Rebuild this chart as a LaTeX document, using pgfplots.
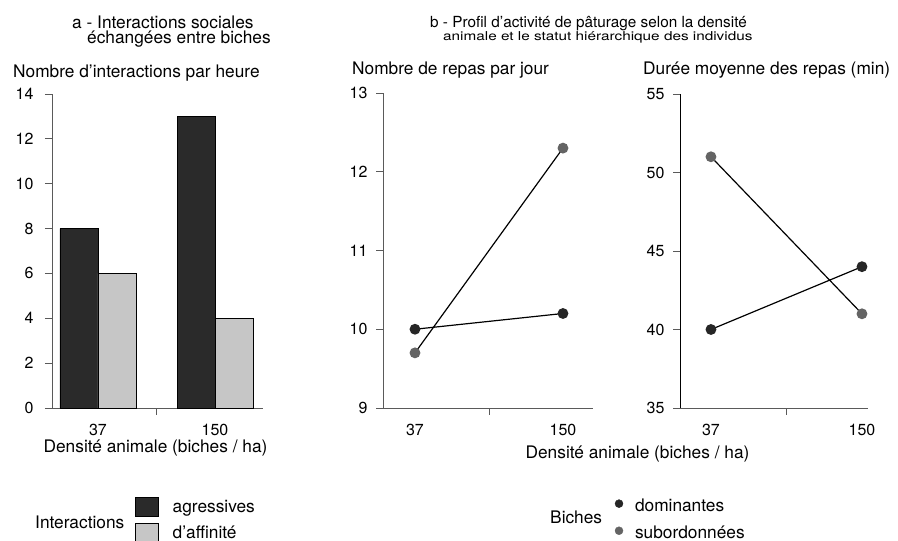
\documentclass[border=0pt]{standalone}
\usepackage{pgfplots}
\pgfplotsset{compat=1.18}
\usepackage{fontspec}
\setmainfont{TeX Gyre Heros}
\definecolor{darkbar}{HTML}{2A2A2A}
\definecolor{lightbar}{HTML}{C6C6C6}
\definecolor{domc}{HTML}{262626}
\definecolor{subc}{HTML}{646464}
\definecolor{axc}{HTML}{5A5A5A}
\newcommand{\fa}{\fontsize{17.3bp}{20bp}\selectfont}
\newcommand{\fb}{\fontsize{15.3bp}{18bp}\selectfont}
\newcommand{\ft}{\fontsize{16bp}{19bp}\selectfont}
\pgfplotsset{
  boxlegend/.style={legend image code/.code={\draw[##1] (0bp,-4bp) rectangle (23bp,15bp);}},
  dotlegend/.style={legend image code/.code={\draw[##1, mark size=4bp] plot coordinates {(4.5bp,6bp)};}},
  common/.style={
    scale only axis, anchor=south west,
    axis x line*=bottom, axis y line*=left,
    axis line style={-, draw=axc, line width=0.7pt},
    tick align=outside, major tick length=7bp,
    tick style={draw=axc, line width=0.7pt},
    /pgf/number format/assume math mode=true,
    ticklabel style={font=\ft},
    y tick label style={xshift=-5bp},
    xtick={0.5}, xticklabels={},
    extra x ticks={0,1}, extra x tick labels={37,150},
    extra x tick style={tick style={draw=none}, x tick label style={yshift=-6bp}},
    clip=false,
  },
}
\begin{document}
\begin{tikzpicture}[x=1bp,y=1bp]
\useasboundingbox (0,0) rectangle (898,541);
% ---------- panel a
\begin{axis}[common, at={(52bp,133bp)}, width=211bp, height=314bp,
  xmin=-0.393, xmax=1.41, ymin=0, ymax=14, ytick={0,2,...,14},
  y tick label style={xshift=-3bp},
  legend cell align=left,
  legend style={at={(0.3934,-0.2835)}, anchor=north west, draw=none, fill=none,
    inner sep=0pt, outer sep=0pt, row sep=6.5bp, column sep=14bp,
    nodes={inner sep=0pt}, cells={anchor=base west}, font=\fa}]
\addplot[ybar, bar width=38bp, bar shift=-19bp, fill=darkbar, draw=black, line width=0.7pt, boxlegend]
  coordinates {(0,8) (1,13)};
\addplot[ybar, bar width=38bp, bar shift=19bp, fill=lightbar, draw=black, line width=0.7pt, boxlegend]
  coordinates {(0,6) (1,4)};
\legend{agressives, d'affinité}
\end{axis}
% ---------- panel b1
\begin{axis}[common, at={(383bp,133bp)}, width=210bp, height=315bp,
  xmin=-0.216, xmax=1.203, ymin=9, ymax=13, ytick={9,10,11,12,13},
  legend cell align=left,
  legend style={at={(1.1048,-0.289)}, anchor=north west, draw=none, fill=none,
    inner sep=0pt, outer sep=0pt, row sep=15bp, column sep=12bp,
    nodes={inner sep=0pt}, cells={anchor=base west}, font=\fa}]
\addlegendimage{only marks, mark=*, mark options={fill=domc, draw=domc}, dotlegend}
\addlegendimage{only marks, mark=*, mark options={fill=subc, draw=subc}, dotlegend}
\addplot[black, line width=1.2pt, mark=*, mark size=4.8bp, mark options={fill=domc, draw=domc}]
  coordinates {(0,10) (1,10.2)};
\addplot[black, line width=1.2pt, mark=*, mark size=4.8bp, mark options={fill=subc, draw=subc}]
  coordinates {(0,9.7) (1,12.3)};
\legend{\raisebox{-2bp}{dominantes}, \raisebox{-2bp}{subordonnées}}
\end{axis}
% ---------- panel b2
\begin{axis}[common, at={(680bp,133bp)}, width=188bp, height=314bp,
  xmin=-0.205, xmax=1.04, ymin=35, ymax=55, ytick={35,40,...,55},
  y axis line style={draw=black, line width=1pt}]
\addplot[black, line width=1.2pt, mark=*, mark size=4.8bp, mark options={fill=domc, draw=domc}]
  coordinates {(0,40) (1,44)};
\addplot[black, line width=1.2pt, mark=*, mark size=4.8bp, mark options={fill=subc, draw=subc}]
  coordinates {(0,51) (1,41)};
\end{axis}
% ---------- texts
\node[anchor=base west, font=\fa, inner sep=0pt] at (72bp,512.5bp) {a - Interactions sociales};
\node[anchor=base west, font=\fa, inner sep=0pt] at (87bp,497bp) {échangées entre biches};
\node[anchor=base west, font=\fa, inner sep=0pt] at (13bp,463bp) {Nombre d'interactions par heure};
\node[anchor=base, font=\fa, inner sep=0pt] at (155.5bp,88bp) {Densité animale (biches / ha)};
\node[anchor=base west, font=\fb, inner sep=0pt] at (430bp,513.5bp) {b - Profil d'activité de pâturage selon la densité};
\node[anchor=base west, font=\fb, inner sep=0pt] at (443bp,500.5bp) {\scalebox{1}[0.8]{animale et le statut hiérarchique des individus}};
\node[anchor=base west, font=\fa, inner sep=0pt] at (352bp,466bp) {Nombre de repas par jour};
\node[anchor=base west, font=\fa, inner sep=0pt] at (643bp,466bp) {Durée moyenne des repas (min)};
\node[anchor=base, font=\fa, inner sep=0pt] at (637.5bp,82bp) {Densité animale (biches / ha)};
\node[anchor=base west, font=\fa, inner sep=0pt] at (35bp,12bp) {Interactions};
\node[anchor=base west, font=\fa, inner sep=0pt] at (550bp,17bp) {Biches};
\end{tikzpicture}
\end{document}
